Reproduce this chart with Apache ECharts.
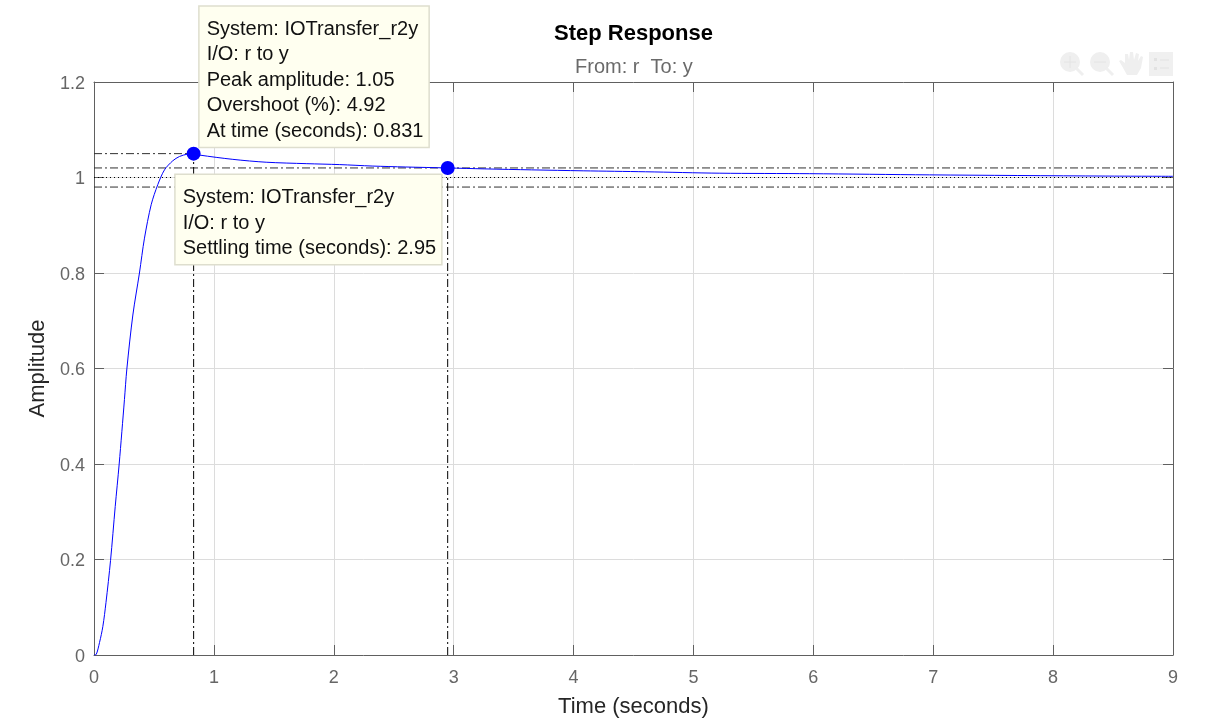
<!DOCTYPE html>
<html>
<head>
<meta charset="utf-8">
<style>html,body{margin:0;padding:0;background:#fff}#c{width:1206px;height:725px}</style>
<script src="https://cdn.jsdelivr.net/npm/echarts@6/dist/echarts.min.js"></script>
</head>
<body>
<div id="c"></div>
<script>
const timeValues = [0,0.018,0.046,0.074,0.10,0.138,0.177,0.21,0.254,0.274,0.324,0.379,0.421,0.477,0.532,0.588,0.657,0.713,0.78,0.831,0.88,1.158,1.436,1.77,2.05,2.32,2.6,2.95,3.26,3.65,4.08,4.6,5.22,5.97,6.97,8.44,9];
const amplitudeValues = [0,0.001,0.026,0.06,0.11,0.198,0.311,0.40,0.535,0.599,0.712,0.80,0.873,0.943,0.985,1.016,1.035,1.044,1.049,1.05,1.047,1.038,1.032,1.029,1.027,1.024,1.022,1.02,1.018,1.016,1.014,1.012,1.009,1.008,1.0055,1.003,1.0025];
const peakPoint = [0.831, 1.05];
const settlingPoint = [2.95, 1.02];
const finalValue = 1;
const bandUpper = 1.02;
const bandLower = 0.98;
const timeEnd = 9;
const xTickStep = 1;
const yTickStep = 0.2;
const amplitudeEnd = 1.2;
const peakLines = ['System: IOTransfer_r2y','I/O: r to y','Peak amplitude: 1.05','Overshoot (%): 4.92','At time (seconds): 0.831'];
const settlingLines = ['System: IOTransfer_r2y','I/O: r to y','Settling time (seconds): 2.95'];

const FONT = '"Liberation Sans", Arial, sans-serif';
const chart = echarts.init(document.getElementById('c'), null, {renderer:'canvas'});
const refLine = (name, pts, color, type) => ({
  name, type:'line', data:pts, showSymbol:false, silent:true, z:3,
  lineStyle:{color, width:1, type}, animation:false
});
const dashDot = [8,3,2,3];
const tipLabel = (lines, position) => ({
  show:true, position, formatter:lines.join('\n'),
  backgroundColor:'#FFFFF0', borderColor:'#DEDECE', borderWidth:1.5, opacity:1,
  padding:[10,5,2.5,7], color:'#111', fontFamily:FONT, fontSize:20, lineHeight:25.5, align:'left', verticalAlign:'top'
});
const baseAxis = {
  axisLine:{show:true, onZero:false, lineStyle:{color:'#606060', width:1}},
  axisTick:{show:true, inside:true, length:10, lineStyle:{color:'#606060', width:1}}
};
chart.setOption({
  animation:false,
  backgroundColor:'#fff',
  textStyle:{fontFamily:FONT},
  title:[
    {text:'Step Response', left:549, top:18, textStyle:{fontFamily:FONT, fontSize:22, fontWeight:'bold', color:'#000'}},
    {text:'From: r  To: y', left:570, top:52, textStyle:{fontFamily:FONT, fontSize:20, fontWeight:'normal', color:'#6a6a6a'}}
  ],
  grid:{left:94, right:33, top:82, bottom:70, containLabel:false},
  xAxis:[
    Object.assign({}, baseAxis, {type:'value', min:0, max:timeEnd, interval:xTickStep, position:'bottom',
      name:'Time (seconds)', nameLocation:'middle', nameGap:41,
      nameTextStyle:{fontFamily:FONT, fontSize:22, color:'#262626'},
      axisLabel:{fontFamily:FONT, fontSize:18, color:'#666', margin:14},
      splitLine:{show:true, lineStyle:{color:'#dcdcdc', width:1}}}),
    Object.assign({}, baseAxis, {type:'value', min:0, max:timeEnd, interval:xTickStep, position:'top',
      axisLabel:{show:false}, splitLine:{show:false}})
  ],
  yAxis:[
    Object.assign({}, baseAxis, {type:'value', min:0, max:amplitudeEnd, interval:yTickStep, position:'left',
      name:'Amplitude', nameLocation:'middle', nameGap:41,
      nameTextStyle:{fontFamily:FONT, fontSize:22, color:'#262626'},
      axisLabel:{margin:9, formatter:'{v|{value}}',
        rich:{v:{fontFamily:FONT, fontSize:18, color:'#666', padding:[4,0,0,0]}}},
      splitLine:{show:true, lineStyle:{color:'#dcdcdc', width:1}}}),
    Object.assign({}, baseAxis, {type:'value', min:0, max:amplitudeEnd, interval:yTickStep, position:'right',
      axisLabel:{show:false}, splitLine:{show:false}})
  ],
  series:[
    refLine('peak level', [[0,peakPoint[1]],peakPoint], '#303030', dashDot),
    refLine('upper band', [[0,bandUpper],[timeEnd,bandUpper]], '#303030', dashDot),
    refLine('lower band', [[0,bandLower],[timeEnd,bandLower]], '#303030', dashDot),
    refLine('final value', [[0,finalValue],[timeEnd,finalValue]], '#000', [1,3]),
    refLine('peak time', [[peakPoint[0],0],peakPoint], '#000', dashDot),
    refLine('settling time', [[settlingPoint[0],0],settlingPoint], '#000', dashDot),
    {name:'IOTransfer_r2y', type:'line', data:timeValues.map((t,i)=>[t,amplitudeValues[i]]),
      showSymbol:false, smooth:0.3, z:4, lineStyle:{color:'#0000ff', width:1}},
    {name:'characteristics', type:'scatter', z:6, symbol:'circle', symbolSize:14, clip:false,
      itemStyle:{color:'#0000ff', opacity:1},
      data:[
        {value:peakPoint, label:tipLabel(peakLines,[13,-140])},
        {value:settlingPoint, label:tipLabel(settlingLines,[-265,14])}
      ]}
  ],
  graphic:[
    {type:'group', silent:true, children:[
      {type:'circle', shape:{cx:1070,cy:62,r:10}, style:{fill:'#efefef'}},
      {type:'line', shape:{x1:1076,y1:68,x2:1083,y2:75}, style:{stroke:'#efefef', lineWidth:3}},
      {type:'line', shape:{x1:1064,y1:62,x2:1076,y2:62}, style:{stroke:'#e4e4e4', lineWidth:1}},
      {type:'line', shape:{x1:1070,y1:56,x2:1070,y2:68}, style:{stroke:'#e4e4e4', lineWidth:1}},
      {type:'circle', shape:{cx:1100,cy:62,r:10}, style:{fill:'#efefef'}},
      {type:'line', shape:{x1:1106,y1:68,x2:1113,y2:75}, style:{stroke:'#efefef', lineWidth:3}},
      {type:'line', shape:{x1:1094,y1:62,x2:1106,y2:62}, style:{stroke:'#e4e4e4', lineWidth:1}},
      {type:'polygon', shape:{points:[[1127,75],[1122,66],[1119,61],[1121,60],[1125,63],[1125,54],[1128,54],[1129,60],[1130,52],[1133,52],[1134,60],[1136,53],[1139,54],[1138,61],[1141,56],[1143,57],[1141,68],[1137,75]]}, style:{fill:'#efefef'}},
      {type:'rect', shape:{x:1149,y:52,width:24,height:24}, style:{fill:'#f0f0f0'}},
      {type:'rect', shape:{x:1154,y:58,width:3,height:3}, style:{fill:'#e2e2e2'}},
      {type:'rect', shape:{x:1154,y:67,width:3,height:3}, style:{fill:'#e2e2e2'}},
      {type:'line', shape:{x1:1160,y1:60,x2:1169,y2:60}, style:{stroke:'#e2e2e2', lineWidth:1}},
      {type:'line', shape:{x1:1160,y1:68,x2:1169,y2:68}, style:{stroke:'#e2e2e2', lineWidth:1}}
    ]}
  ]
});
</script>
</body>
</html>
